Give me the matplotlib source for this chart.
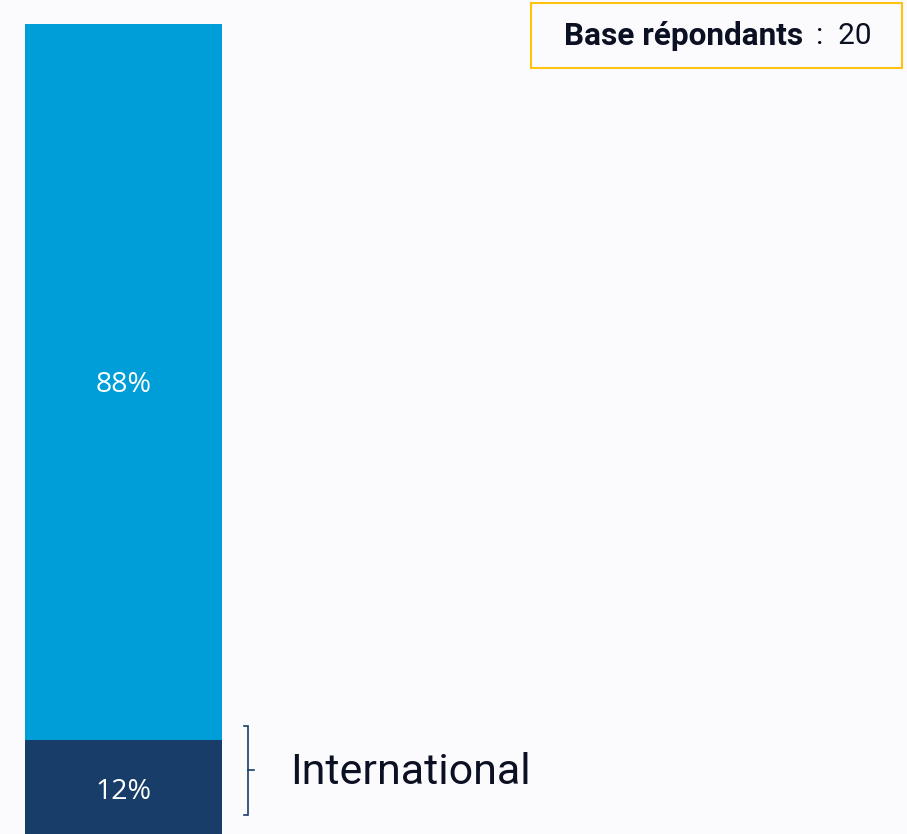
import matplotlib.pyplot as plt
from matplotlib.patches import Rectangle

# stacked shares (bottom to top)
segments = ["International", "National"]
shares = [12, 88]
colors = ["#173D68", "#009ED8"]
base_label = "Base répondants"
base_n = 20

W, H, DPI = 907, 834, 100
bg = "#FBFBFE"

fig = plt.figure(figsize=(W / DPI, H / DPI), dpi=DPI, facecolor=bg)

# axes laid out in pixels: bar from x=25 to 222, top at y=24
top_px, bottom_px = 24, 838
ax = fig.add_axes([0, (H - bottom_px) / H, 1, (bottom_px - top_px) / H])
ax.set_facecolor(bg)
ax.set_xlim(0, W)
ax.set_ylim(0, 100)
ax.axis("off")

bar_x, bar_w = 25, 197
bottom = 0
for name, val, col in zip(segments, shares, colors):
    ax.bar(bar_x, val, width=bar_w, bottom=bottom, color=col, align="edge")
    ax.text(bar_x + bar_w / 2, bottom + val / 2 - 0.3, f"{val}%", color="white",
            ha="center", va="center", fontsize=20.5, family="Open Sans")
    bottom += val

# bracket next to the international segment
y0 = shares[0] * 0.236
y1 = shares[0] + 1.76
ym = (y0 + y1) / 2
bx = 248
ax.plot([bx - 4, bx, bx, bx - 4], [y0, y0, y1, y1], color="#173D68", lw=1.2,
        solid_joinstyle="miter")
ax.plot([bx, bx + 6], [ym, ym], color="#173D68", lw=1.2)
ax.text(290, ym - 0.2, segments[0], ha="left", va="center",
        fontsize=31, family="Roboto", color="#0B1023")

# respondent base box
fig.patches.append(Rectangle((531 / W, 1 - 68 / H), 371 / W, 65 / H,
                             transform=fig.transFigure, fill=False,
                             edgecolor="#FFC20E", lw=1.5))
fig.text(564 / W, 1 - 36 / H, base_label, ha="left", va="center",
         fontsize=22.7, fontweight="bold", family="Roboto", color="#0B1023")
fig.text(872 / W, 1 - 36 / H, ":  " + str(base_n), ha="right", va="center",
         fontsize=21.5, family="Roboto", color="#0B1023")

fig.savefig("out.png", dpi=DPI, facecolor=bg)
